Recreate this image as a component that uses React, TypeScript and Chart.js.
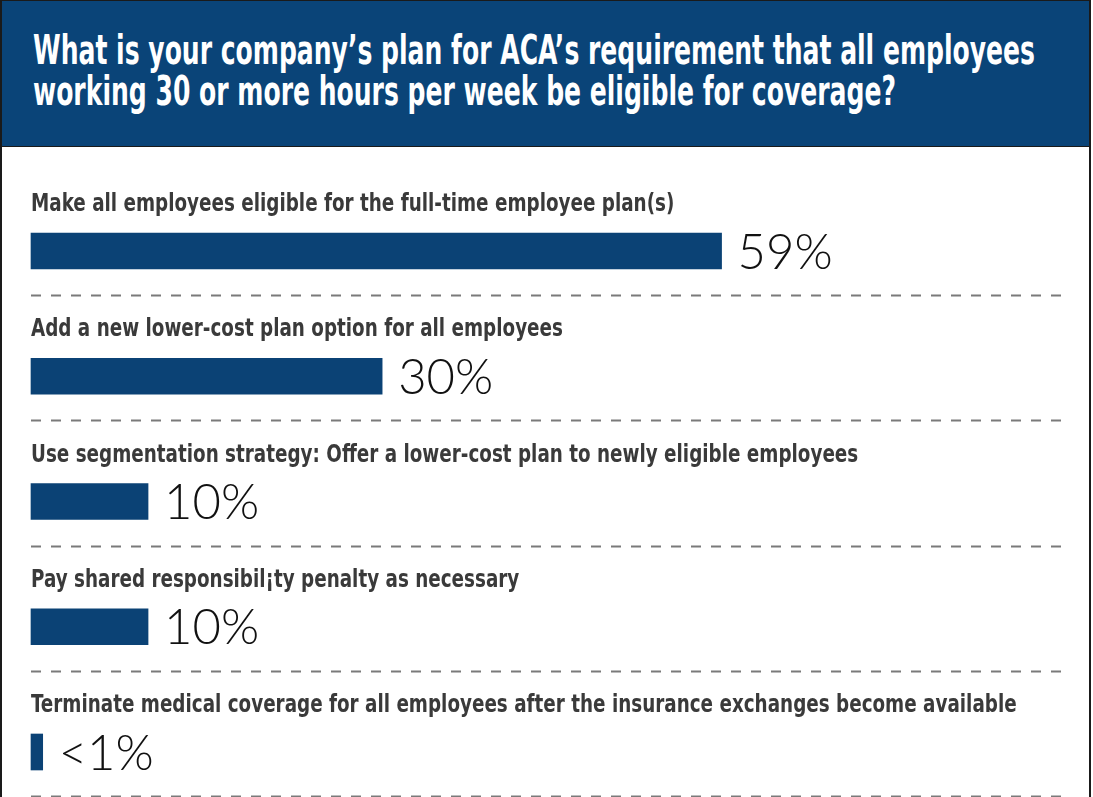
import React, { useEffect, useRef } from "react";
import { Chart, registerables } from "chart.js";

Chart.register(...registerables);

const titleLines = [
  "What is your company\u2019s plan for ACA\u2019s requirement that all employees",
  "working 30 or more hours per week be eligible for coverage?",
];

const categories = [
  "Make all employees eligible for the full-time employee plan(s)",
  "Add a new lower-cost plan option for all employees",
  "Use segmentation strategy: Offer a lower-cost plan to newly eligible employees",
  "Pay shared responsibil\u00a1ty penalty as necessary",
  "Terminate medical coverage for all employees after the insurance exchanges become available",
];

const values = [59, 30, 10, 10, 1];
const valueLabels = ["59%", "30%", "10%", "10%", "<1%"];

const BAR_COLOR = "#0b4275";
const HEADER_COLOR = "#0a4478";
const COND_FAMILY = "'Liberation Sans Narrow', 'DejaVu Sans Condensed', sans-serif";
const LABEL_FONT = "bold 24px " + COND_FAMILY;
const LABEL_SCALE_X = 0.85;
const VALUE_FONT = "300 49px Lato, 'Open Sans', sans-serif";
const TITLE_FONT = "bold 40px " + COND_FAMILY;
const TITLE_WIDTH = 1002;

function titleScale(): number {
  try {
    const c = document.createElement("canvas");
    const ctx = c.getContext("2d");
    if (!ctx) return 0.85;
    ctx.font = TITLE_FONT;
    const w = ctx.measureText(titleLines[0]).width;
    return w > 0 ? TITLE_WIDTH / w : 0.85;
  } catch (e) {
    return 0.85;
  }
}

const rowDecor = {
  id: "rowDecor",
  afterDatasetsDraw(chart: any) {
    const ctx = chart.ctx as CanvasRenderingContext2D;
    const meta = chart.getDatasetMeta(0);
    const left = chart.chartArea.left;
    ctx.save();
    meta.data.forEach((bar: any, i: number) => {
      const y = bar.y;
      // category label (condensed horizontally)
      ctx.save();
      ctx.font = LABEL_FONT;
      ctx.fillStyle = "#3a3a3a";
      ctx.textAlign = "left";
      ctx.textBaseline = "alphabetic";
      ctx.translate(left, y - 40);
      ctx.scale(LABEL_SCALE_X, 1);
      ctx.fillText(categories[i], 0, 0);
      ctx.restore();
      // value label
      ctx.font = VALUE_FONT;
      ctx.fillStyle = "#111111";
      ctx.textAlign = "left";
      ctx.textBaseline = "alphabetic";
      ctx.fillText(valueLabels[i], bar.x + 16, y + 17.5);
      // dashed separator
      ctx.strokeStyle = "#7a7a7a";
      ctx.lineWidth = 2;
      ctx.setLineDash([10, 10]);
      ctx.beginPath();
      ctx.moveTo(left, Math.round(y + 44) + 0.5);
      ctx.lineTo(1067, Math.round(y + 44) + 0.5);
      ctx.stroke();
      ctx.setLineDash([]);
    });
    ctx.restore();
  },
};

export default function App() {
  const ref = useRef<HTMLCanvasElement>(null);
  const tScale = titleScale();

  useEffect(() => {
    if (!ref.current) return;
    const chart = new Chart(ref.current, {
      type: "bar",
      data: {
        labels: categories,
        datasets: [
          {
            data: values,
            backgroundColor: BAR_COLOR,
            borderWidth: 0,
            barThickness: 36,
            clip: false as any,
          },
        ],
      },
      options: {
        indexAxis: "y",
        responsive: false,
        animation: false,
        devicePixelRatio: 1,
        layout: { padding: { left: 31, right: 32, top: 251, bottom: 45 } },
        scales: {
          x: { type: "linear", min: 0, max: 88, display: false },
          y: { type: "category", offset: false, display: false },
        },
        plugins: {
          legend: { display: false },
          tooltip: { enabled: false },
        },
      },
      plugins: [rowDecor],
    });
    return () => chart.destroy();
  }, []);

  return (
    <div
      style={{
        position: "absolute",
        left: 0,
        top: 0,
        width: 1093,
        height: 797,
        background: "#ffffff",
        overflow: "hidden",
      }}
    >
      <canvas
        ref={ref}
        width={1093}
        height={797}
        style={{ position: "absolute", left: 0, top: 0, width: 1093, height: 797 }}
      />
      <div
        style={{
          position: "absolute",
          left: 0,
          top: 0,
          width: 1091,
          height: 147,
          background: HEADER_COLOR,
          borderTop: "1px solid #1a1a1a",
          borderBottom: "1px solid #1a1a1a",
          boxSizing: "border-box",
        }}
      >
        <div
          style={{
            position: "absolute",
            left: 33,
            top: 29,
            color: "#ffffff",
            font: TITLE_FONT,
            lineHeight: "41px",
            whiteSpace: "nowrap",
            transform: `scaleX(${tScale})`,
            transformOrigin: "0 0",
          }}
        >
          {titleLines.map((l, i) => (
            <div key={i}>{l}</div>
          ))}
        </div>
      </div>
      <div
        style={{
          position: "absolute",
          left: 0,
          top: 0,
          width: 2,
          height: 797,
          background: "#1a1a1a",
        }}
      />
      <div
        style={{
          position: "absolute",
          left: 1089,
          top: 0,
          width: 2,
          height: 797,
          background: "#1a1a1a",
        }}
      />
    </div>
  );
}
